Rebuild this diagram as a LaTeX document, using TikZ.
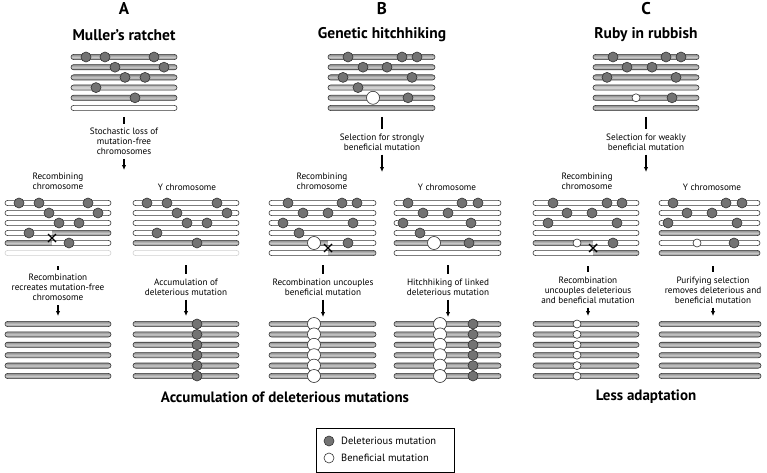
\documentclass[tikz,border=0pt]{standalone}
\usepackage{fontspec}
\setmainfont{PT Sans}
\usetikzlibrary{arrows.meta}

\tikzset{
  chr/.style={draw=black!78, line width=0.6pt, rounded corners=2.6pt},
  gr/.style={top color=black!45, bottom color=black!45, middle color=black!22},
  lg/.style={top color=black!32, bottom color=black!32, middle color=black!15},
  wt/.style={fill=white},
  fd/.style={draw=black!18, fill=white},
  dmut/.style={draw=black!80, fill=black!55, line width=0.6pt},
  bmut/.style={draw=black!80, fill=white, line width=0.6pt},
  bar/.style={line width=1.3pt},
  arr/.style={line width=1.1pt, -{Latex[length=5pt,width=4.5pt]}},
  xmark/.style={line width=1.4pt},
  lbl/.style={font=\fontsize{9.2}{10.2}\selectfont, align=center, inner sep=0pt},
  leg/.style={font=\fontsize{10.5}{12}\selectfont, inner sep=0pt},
  ttl/.style={font=\bfseries\fontsize{15.5}{17}\selectfont, inner sep=0pt},
  sum/.style={font=\bfseries\fontsize{15}{17}\selectfont, inner sep=0pt},
  big/.style={font=\bfseries\fontsize{17}{18}\selectfont, inner sep=0pt},
}

% chromosome: x from, x to, y, style
\newcommand{\chrom}[4]{\draw[chr,#4] (#1,#3-2.6) rectangle (#2,#3+2.6);}
% recombined chromosome: x from, x to, break, y, left style, right style
\newcommand{\recomb}[6]{%
  \begin{scope}\clip (#1-2,#4-4) rectangle (#3,#4+4); \chrom{#1}{#2}{#4}{#5}\end{scope}
  \begin{scope}\clip (#3,#4-4) rectangle (#2+2,#4+4); \chrom{#1}{#2}{#4}{#6}\end{scope}}

\begin{document}
\begin{tikzpicture}[x=1pt, y=-1pt]
    \useasboundingbox (0,0) rectangle (767,473);

    % ---------- A: Muller's ratchet ----------
    \node[big] (labA) at (124,9) {A};
    \node[ttl] (ttlA) at (124,35) {Muller’s ratchet};
    \foreach \s [count=\i from 0] in {gr,gr,gr,lg,gr,wt} {\chrom{71}{177}{57+10.2*\i}{\s}}
    \foreach \x/\i in {86/0,105/0,154/0,115/1,164/1,125/2,145/2,96/3,135/4}
        \draw[dmut] (\x,57+10.2*\i) circle (5pt);

    \node[lbl] (capA) at (124,141.5) {Stochastic loss of\\mutation-free\\chromosomes};
    \coordinate (barA) at (124,117);
    \coordinate (endA) at (124,170);
    \draw[bar] (barA) -- ([yshift=4pt]capA.north);
    \draw[arr] ([yshift=-4pt]capA.south) -- (endA);

    \node[lbl] (recA) at (58,181.5) {Recombining\\chromosome};
    \node[lbl] (yA) at (187,187) {Y chromosome};

    % recombining chromosome
    \foreach \i in {0,1,2} {\chrom{5}{111}{203+10*\i}{wt}}
    \recomb{5}{111}{52}{233}{wt}{gr}
    \recomb{5}{111}{52}{243}{gr}{wt}
    \chrom{5}{111}{253}{fd}
    \foreach \x/\i in {19/0,39/0,88/0,49/1,98/1,59/2,79/2,29/3,69/4}
        \draw[dmut] (\x,203+10*\i) circle (5pt);
    \draw[xmark] (48,234) -- (56,242) (48,242) -- (56,234);

    % Y chromosome
    \foreach \s [count=\i from 0] in {wt,wt,wt,wt,gr,fd} {\chrom{133}{239}{203+10*\i}{\s}}
    \foreach \x/\i in {147/0,167/0,217/0,177/1,227/1,187/2,207/2,157/3,197/4}
        \draw[dmut] (\x,203+10*\i) circle (5pt);

    \node[lbl] (capAl) at (58,287.5) {Recombination\\recreates mutation-free\\chromosome};
    \coordinate (barAl) at (58,266);
    \coordinate (endAl) at (58,316);
    \draw[bar] (barAl) -- ([yshift=4pt]capAl.north);
    \draw[arr] ([yshift=-4pt]capAl.south) -- (endAl);

    \node[lbl] (capAr) at (186,287) {Accumulation of\\deleterious mutation};
    \coordinate (barAr) at (186,265);
    \coordinate (endAr) at (186,316);
    \draw[bar] (barAr) -- ([yshift=4pt]capAr.north);
    \draw[arr] ([yshift=-4pt]capAr.south) -- (endAr);

    \foreach \i in {0,...,5} {\chrom{5}{111}{324+10.4*\i}{gr} \chrom{133}{239}{324+10.4*\i}{gr}}
    \foreach \i in {0,...,5} \draw[dmut] (197,324+10.4*\i) circle (5pt);

    % ---------- B: Genetic hitchhiking ----------
    \node[big] (labB) at (382,9) {B};
    \node[ttl] (ttlB) at (382,35) {Genetic hitchhiking};
    \foreach \s [count=\i from 0] in {gr,gr,gr,lg,gr,gr} {\chrom{328}{435}{57+10.2*\i}{\s}}
    \foreach \x/\i in {348/0,402/0,417/0,363/1,387/1,343/2,412/2,358/3,408/4}
        \draw[dmut] (\x,57+10.2*\i) circle (5pt);
    \draw[bmut] (373,57+10.2*4) circle (6.5pt);

    \node[lbl] (capB) at (382,142) {Selection for strongly\\beneficial mutation};
    \coordinate (barB) at (382,117);
    \coordinate (endB) at (382,172);
    \draw[bar] (barB) -- ([yshift=4pt]capB.north);
    \draw[arr] ([yshift=-4pt]capB.south) -- (endB);

    \node[lbl] (recB) at (322,181.5) {Recombining\\chromosome};
    \node[lbl] (yB) at (447,187) {Y chromosome};

    % recombining chromosome
    \foreach \i in {0,...,3} {\chrom{269}{376}{203+10*\i}{wt}}
    \recomb{269}{376}{328}{243}{gr}{wt}
    \recomb{269}{376}{328}{253}{wt}{gr}
    \foreach \x/\i in {288/0,342/0,357/0,303/1,328/1,283/2,353/2,299/3,348/4}
        \draw[dmut] (\x,203+10*\i) circle (5pt);
    \draw[bmut] (314,243) circle (6.5pt);
    \draw[xmark] (324,244) -- (332,252) (324,252) -- (332,244);

    % Y chromosome
    \foreach \s [count=\i from 0] in {wt,wt,wt,wt,gr,wt} {\chrom{394}{501}{203+10*\i}{\s}}
    \foreach \x/\i in {408/0,462/0,478/0,423/1,448/1,403/2,471/2,420/3,469/4}
        \draw[dmut] (\x,203+10*\i) circle (5pt);
    \draw[bmut] (434,243) circle (6.5pt);

    \node[lbl] (capBl) at (323,287) {Recombination uncouples\\beneficial mutation};
    \coordinate (barBl) at (323,265);
    \coordinate (endBl) at (323,317);
    \draw[bar] (barBl) -- ([yshift=4pt]capBl.north);
    \draw[arr] ([yshift=-4pt]capBl.south) -- (endBl);

    \node[lbl] (capBr) at (448,287) {Hitchhiking of linked\\deleterious mutation};
    \coordinate (barBr) at (448,265);
    \coordinate (endBr) at (448,317);
    \draw[bar] (barBr) -- ([yshift=4pt]capBr.north);
    \draw[arr] ([yshift=-4pt]capBr.south) -- (endBr);

    \foreach \i in {0,...,5} {\chrom{269}{376}{324+10.4*\i}{gr} \chrom{394}{501}{324+10.4*\i}{gr}}
    \foreach \i in {0,...,5} {
        \draw[bmut] (314,324+10.4*\i) circle (6.5pt);
        \draw[bmut] (440,324+10.4*\i) circle (6.5pt);
        \draw[dmut] (473,324+10.4*\i) circle (5pt);
    }

    % ---------- C: Ruby in rubbish ----------
    \node[big] (labC) at (646,9) {C};
    \node[ttl] (ttlC) at (646,35) {Ruby in rubbish};
    \foreach \s [count=\i from 0] in {gr,gr,gr,lg,gr,gr} {\chrom{593}{699}{57+10.2*\i}{\s}}
    \foreach \x/\i in {613/0,666/0,681/0,627/1,652/1,607/2,676/2,672/4}
        \draw[dmut] (\x,57+10.2*\i) circle (5pt);
    \draw[bmut] (636,57+10.2*4) circle (4pt);

    \node[lbl] (capC) at (646,142) {Selection for weakly\\beneficial mutation};
    \coordinate (barC) at (646,117);
    \coordinate (endC) at (646,172);
    \draw[bar] (barC) -- ([yshift=4pt]capC.north);
    \draw[arr] ([yshift=-4pt]capC.south) -- (endC);

    \node[lbl] (recC) at (587,181.5) {Recombining\\chromosome};
    \node[lbl] (yC) at (712,187) {Y chromosome};

    % recombining chromosome
    \foreach \i in {0,...,3} {\chrom{533}{639}{203+10*\i}{wt}}
    \recomb{533}{639}{593}{243}{gr}{wt}
    \recomb{533}{639}{593}{253}{wt}{gr}
    \foreach \x/\i in {553/0,607/0,622/0,567/1,592/1,548/2,617/2,613/4}
        \draw[dmut] (\x,203+10*\i) circle (5pt);
    \draw[bmut] (577,243) circle (4pt);
    \draw[xmark] (589,244) -- (597,252) (589,252) -- (597,244);

    % Y chromosome
    \foreach \s [count=\i from 0] in {wt,wt,wt,gr,wt,gr} {\chrom{659}{760}{203+10*\i}{\s}}
    \foreach \x/\i in {673/0,726/0,742/0,687/1,712/1,668/2,737/2,734/4}
        \draw[dmut] (\x,203+10*\i) circle (5pt);
    \draw[bmut] (697,243) circle (4pt);

    \node[lbl] (capCl) at (588,290) {Recombination\\uncouples deleterious\\and beneficial mutation};
    \coordinate (barCl) at (588,266);
    \coordinate (endCl) at (588,316);
    \draw[bar] (barCl) -- ([yshift=4pt]capCl.north);
    \draw[arr] ([yshift=-4pt]capCl.south) -- (endCl);

    \node[lbl] (capCr) at (713,290) {Purifying selection\\removes deleterious and\\beneficial mutation};
    \coordinate (barCr) at (713,266);
    \coordinate (endCr) at (713,316);
    \draw[bar] (barCr) -- ([yshift=4pt]capCr.north);
    \draw[arr] ([yshift=-4pt]capCr.south) -- (endCr);

    \foreach \i in {0,...,5} {\chrom{533}{639}{324+10.4*\i}{gr} \chrom{659}{761}{324+10.4*\i}{gr}}
    \foreach \i in {0,...,5} \draw[bmut] (577,324+10.4*\i) circle (4pt);

    % ---------- outcomes and legend ----------
    \node[sum] (sumAB) at (285,397) {Accumulation of deleterious mutations};
    \node[sum] (sumC) at (646,397) {Less adaptation};

    \draw[line width=0.6pt] (316,428) rectangle (454,472);
    \draw[dmut] (329,441) circle (5pt);
    \draw[bmut] (329,458) circle (5pt);
    \node[leg, anchor=west] (legD) at (341,441) {Deleterious mutation};
    \node[leg, anchor=west] (legB) at (341,458) {Beneficial mutation};

\end{tikzpicture}
\end{document}
